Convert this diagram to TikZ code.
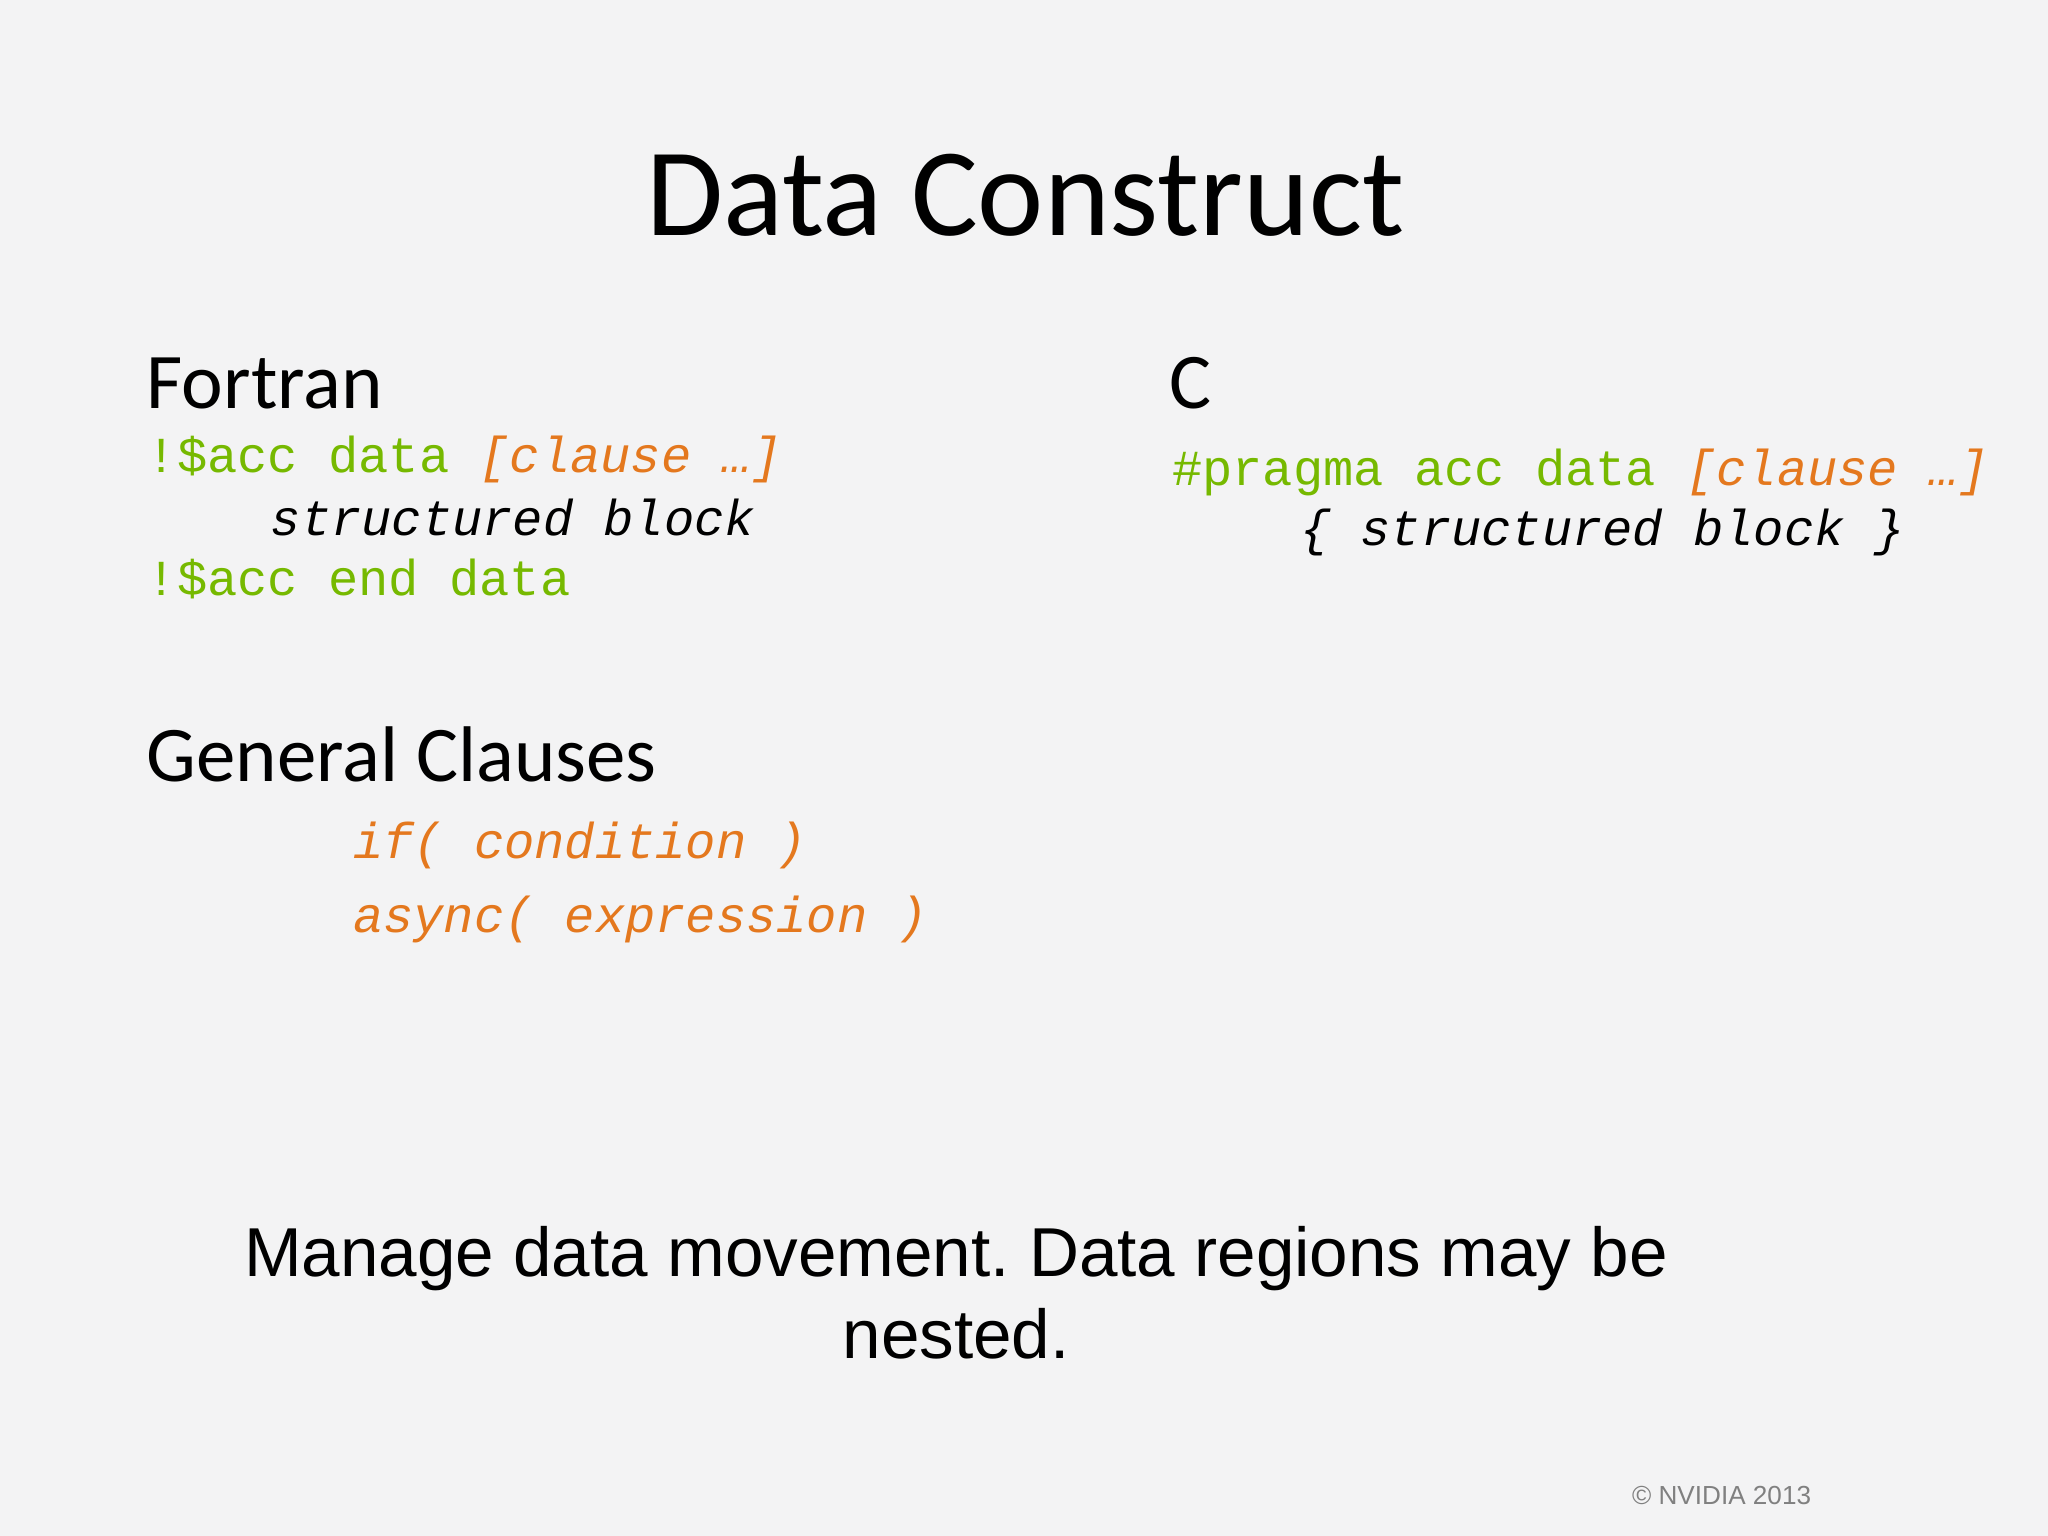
\documentclass[tikz,border=0pt]{standalone}
\usepackage{fontspec}
\setmainfont{Carlito}
\newfontfamily\codefont{Liberation Mono}
\newfontfamily\arialfont{Liberation Sans}
\definecolor{bg}{RGB}{243,243,244}
\definecolor{nvgreen}{RGB}{118,185,0}
\definecolor{clorange}{RGB}{228,120,30}
\frenchspacing
\begin{document}
\begin{tikzpicture}[x=0.5pt,y=-0.5pt,
  code/.style={anchor=base west,inner sep=0,font=\codefont\fontsize{19.3}{22}\selectfont},
  head/.style={anchor=base west,inner sep=0,font=\fontsize{30.2}{36}\selectfont}]
\fill[bg] (0,0) rectangle (1568,1176);
\useasboundingbox (0,0) rectangle (1568,1176);
\node[anchor=base,inner sep=0,font=\fontsize{48}{56}\selectfont] (title) at (785,180) {Data Construct};
\node[head] (fortran) at (112,313) {Fortran};
\node[code,text=nvgreen] (f1) at (112,362) {!\$acc data \textcolor{clorange}{\itshape[clause …]}};
\node[code,font=\codefont\itshape\fontsize{19.3}{22}\selectfont] (f2) at (207,410) {structured block};
\node[code,text=nvgreen] (f3) at (112,456) {!\$acc end data};
\node[head] (c) at (895,313) {C};
\node[code,text=nvgreen] (c1) at (897,372) {\#pragma acc data \textcolor{clorange}{\itshape[clause …]}};
\node[code,font=\codefont\itshape\fontsize{19.3}{22}\selectfont] (c2) at (995,418) {\{ structured block \}};
\node[head] (gc) at (112,598) {General Clauses};
\node[code,text=clorange,font=\codefont\itshape\fontsize{19.3}{22}\selectfont] (g1) at (270,657) {if( condition )};
\node[code,text=clorange,font=\codefont\itshape\fontsize{19.3}{22}\selectfont] (g2) at (270,714) {async( expression )};
\node[anchor=base,inner sep=0,font=\arialfont\fontsize{26.5}{32}\selectfont] (b1) at (732,977) {Manage data movement. Data regions may be};
\node[anchor=base,inner sep=0,font=\arialfont\fontsize{26.5}{32}\selectfont] (b2) at (732,1040) {nested.};
\node[anchor=base east,inner sep=0,text=gray,font=\arialfont\fontsize{10}{12}\selectfont] (copy) at (1387,1152) {© NVIDIA 2013};
\end{tikzpicture}
\end{document}
